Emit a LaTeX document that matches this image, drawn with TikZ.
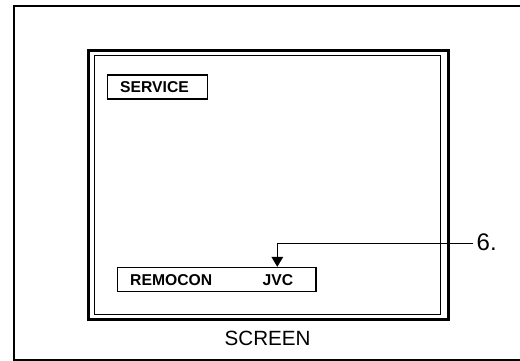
\documentclass[tikz,border=0pt]{standalone}
\usepackage{fontspec}
\setmainfont{Liberation Sans}
\usetikzlibrary{arrows.meta}
\begin{document}
\begin{tikzpicture}[x=1pt,y=-1pt,
  boxtxt/.style={font=\fontsize{15.7}{16}\selectfont\bfseries,inner sep=0pt,anchor=base west},
  labelbox/.style={draw,line width=1.5pt,inner sep=0pt,anchor=north west}]
\useasboundingbox (0,0) rectangle (520,361);
% outer frame
\draw[line width=2pt] (14,6.3) rectangle (540,360);
% screen frames
\draw[line width=3pt] (88.8,50.2) rectangle (448.5,319.7);
\draw[line width=1.1pt] (94.2,55.8) rectangle (440.8,314.2);
% SERVICE box
\node[labelbox,minimum width=99.7pt,minimum height=24.3pt] (servbox) at (106.8,74.2) {};
\node[boxtxt] (serv) at (120,92.3) {SERVICE};
% REMOCON box
\node[labelbox,minimum width=198.4pt,minimum height=24pt] (remobox) at (116.8,266.8) {};
\node[boxtxt] (remo) at (130,285.3) {REMOCON};
\node[boxtxt] (jvc) at (262.5,285.3) {JVC};
% label 6.
\node[font=\fontsize{24}{24}\selectfont,inner sep=0pt,anchor=base west] (six) at (476.5,250.7) {6.};
\coordinate (tip) at (277.3,266.8);
\draw[line width=1.3pt,-{Triangle[width=11.6pt,length=10pt]}] ([xshift=-3.5pt,yshift=-1pt]six.west) -| (tip);
% SCREEN caption
\node[font=\fontsize{20.6}{21}\selectfont,inner sep=0pt,anchor=base west] (scr) at (224.5,345.7) {SCREEN};
\end{tikzpicture}
\end{document}
